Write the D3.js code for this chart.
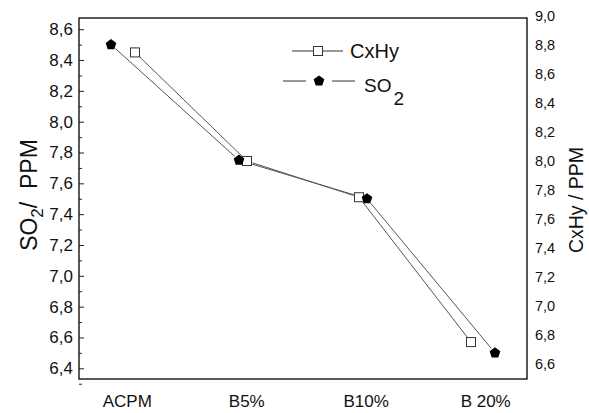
<!DOCTYPE html>
<html>
<head>
<meta charset="utf-8">
<script src="https://cdn.jsdelivr.net/npm/d3@7"></script>
<style>
  html, body { margin: 0; padding: 0; background: #fff; }
  svg { display: block; font-family: "Liberation Sans", Arial, sans-serif; }
</style>
</head>
<body>
<svg id="chart" width="589" height="413"></svg>
<script>
// Fuel blends on the x axis
const categories = ["ACPM", "B5%", "B10%", "B 20%"];
// SO2 concentration (left axis, PPM)
const so2Values = [8.5, 7.75, 7.5, 6.5];
// CxHy concentration (right axis, PPM)
const cxhyValues = [8.75, 8.0, 7.75, 6.75];
// Axis tick labels
const leftTicks = [6.4, 6.6, 6.8, 7.0, 7.2, 7.4, 7.6, 7.8, 8.0, 8.2, 8.4, 8.6];
const leftMinorTicks = [6.3, 6.5, 6.7, 6.9, 7.1, 7.3, 7.5, 7.7, 7.9, 8.1, 8.3, 8.5];
const rightTicks = [6.6, 6.8, 7.0, 7.2, 7.4, 7.6, 7.8, 8.0, 8.2, 8.4, 8.6, 8.8, 9.0];

const svg = d3.select("#chart");
const frame = { left: 79, right: 527, top: 18, bottom: 379 };

const fmt = d => d3.format(".1f")(d).replace(".", ",");

// Vertical scales for the two layers
const yLeft = d3.scaleLinear().domain([6.4, 8.6]).range([368.3, 29.2]);
const yRight = d3.scaleLinear().domain([6.6, 9.0]).range([363.8, 16.2]);

// Each series sits on its own layer with its own horizontal scale
const idx = d3.range(categories.length);
const xSO2 = d3.scaleLinear().domain([-0.25, 3.25]).range([frame.left, frame.right]);
const xCxHy = d3.scaleLinear().domain([-0.5, 3.5]).range([frame.left, frame.right]);
const xLabels = d3.scaleLinear().domain([-0.4, 3.35]).range([frame.left, frame.right]);

// Frame
svg.append("rect")
  .attr("x", frame.left).attr("y", frame.top)
  .attr("width", frame.right - frame.left).attr("height", frame.bottom - frame.top)
  .attr("fill", "none").attr("stroke", "#000").attr("stroke-width", 1.3);

// Left axis with inward ticks
const leftAxis = svg.append("g")
  .attr("transform", `translate(${frame.left},0)`)
  .call(d3.axisLeft(yLeft).tickValues(leftTicks).tickFormat(fmt)
    .tickSizeInner(-5).tickSizeOuter(0).tickPadding(6));
leftAxis.select(".domain").remove();
leftAxis.selectAll("text").attr("font-size", 17).attr("fill", "#111");
leftAxis.selectAll(".tick line").attr("stroke", "#222");

const leftMinor = svg.append("g")
  .attr("transform", `translate(${frame.left},0)`)
  .call(d3.axisLeft(yLeft).tickValues(leftMinorTicks).tickFormat("")
    .tickSizeInner(-3).tickSizeOuter(0));
leftMinor.select(".domain").remove();
leftMinor.selectAll(".tick line").attr("stroke", "#222");

// Right axis: labels only
const rightAxis = svg.append("g")
  .attr("transform", `translate(${frame.right},0)`)
  .call(d3.axisRight(yRight).tickValues(rightTicks).tickFormat(fmt)
    .tickSize(0).tickPadding(8));
rightAxis.select(".domain").remove();
rightAxis.selectAll("text").attr("font-size", 14.5).attr("fill", "#111");

// Category labels
const bottomAxis = svg.append("g")
  .attr("transform", `translate(0,${frame.bottom})`)
  .call(d3.axisBottom(xLabels).tickValues(idx).tickFormat(i => categories[i])
    .tickSize(0).tickPadding(16));
bottomAxis.select(".domain").remove();
bottomAxis.selectAll("text").attr("font-size", 17).attr("fill", "#111");

// Axis titles
const leftTitle = svg.append("text")
  .attr("transform", "translate(37,195) rotate(-90)")
  .attr("text-anchor", "middle")
  .attr("font-size", 23).attr("fill", "#111");
leftTitle.append("tspan").text("SO");
leftTitle.append("tspan").attr("font-size", 17).attr("dy", 6).text("2");
leftTitle.append("tspan").attr("dy", -6).text("/\u00a0\u00a0PPM");

svg.append("text")
  .attr("transform", "translate(583,200) rotate(-90)")
  .attr("text-anchor", "middle")
  .attr("font-size", 19.5).attr("fill", "#111")
  .text("CxHy / PPM");

// Marker shapes
function pentagon(r) {
  const pts = d3.range(5).map(k => {
    const a = -Math.PI / 2 + k * 2 * Math.PI / 5;
    return [r * Math.cos(a), r * Math.sin(a)];
  });
  return "M" + pts.map(p => p.join(",")).join("L") + "Z";
}

// Line segments with a small gap around each marker
function gappedSegments(g, pts, gap, color) {
  for (let i = 0; i < pts.length - 1; i++) {
    const [x0, y0] = pts[i], [x1, y1] = pts[i + 1];
    const len = Math.hypot(x1 - x0, y1 - y0);
    const ux = (x1 - x0) / len, uy = (y1 - y0) / len;
    g.append("line")
      .attr("x1", x0 + ux * gap).attr("y1", y0 + uy * gap)
      .attr("x2", x1 - ux * gap).attr("y2", y1 - uy * gap)
      .attr("stroke", color).attr("stroke-width", 1);
  }
}

const so2Pts = idx.map(i => [xSO2(i), yLeft(so2Values[i])]);
const cxPts = idx.map(i => [xCxHy(i), yRight(cxhyValues[i])]);

const lines = svg.append("g");
gappedSegments(lines, so2Pts, 6, "#555");
gappedSegments(lines, cxPts, 6, "#555");

// CxHy markers: open squares
svg.append("g").selectAll("rect").data(cxPts).join("rect")
  .attr("x", d => d[0] - 4.5).attr("y", d => d[1] - 4.5)
  .attr("width", 9).attr("height", 9)
  .attr("fill", "#fff").attr("stroke", "#333").attr("stroke-width", 1);

// SO2 markers: filled pentagons
svg.append("g").selectAll("path").data(so2Pts).join("path")
  .attr("transform", d => `translate(${d[0]},${d[1]})`)
  .attr("d", pentagon(5.6))
  .attr("fill", "#000");

// Legend
const legend = svg.append("g");
legend.append("line").attr("x1", 292).attr("x2", 343).attr("y1", 51).attr("y2", 51)
  .attr("stroke", "#333").attr("stroke-width", 1);
legend.append("rect").attr("x", 313.5).attr("y", 46.5).attr("width", 9).attr("height", 9)
  .attr("fill", "#fff").attr("stroke", "#333").attr("stroke-width", 1);
legend.append("text").attr("x", 350).attr("y", 58)
  .attr("font-size", 20).attr("fill", "#111").text("CxHy");

legend.append("line").attr("x1", 283).attr("x2", 306).attr("y1", 81).attr("y2", 81)
  .attr("stroke", "#333").attr("stroke-width", 1);
legend.append("line").attr("x1", 332).attr("x2", 355).attr("y1", 81).attr("y2", 81)
  .attr("stroke", "#333").attr("stroke-width", 1);
legend.append("path").attr("transform", "translate(319,81)").attr("d", pentagon(5.6))
  .attr("fill", "#000");
const soText = legend.append("text").attr("x", 364).attr("y", 92)
  .attr("font-size", 19).attr("fill", "#111");
soText.append("tspan").text("SO");
soText.append("tspan").attr("dy", 13).attr("dx", 2).text("2");
</script>
</body>
</html>
